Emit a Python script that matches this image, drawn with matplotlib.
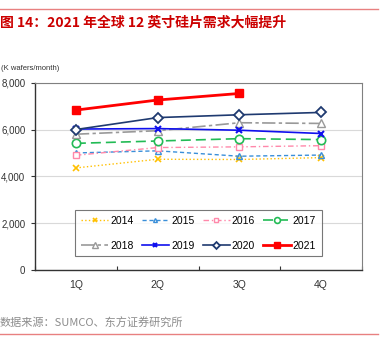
import matplotlib.pyplot as plt
from matplotlib.ticker import FuncFormatter

plt.rcParams['font.family'] = ['Liberation Sans', 'Noto Sans CJK SC', 'DejaVu Sans']
plt.rcParams['axes.unicode_minus'] = False

quarters = ['1Q', '2Q', '3Q', '4Q']
d2014 = [4360, 4730, 4720, 4800]
d2015 = [5000, 5090, 4860, 4910]
d2016 = [4900, 5230, 5260, 5310]
d2017 = [5410, 5510, 5610, 5570]
d2018 = [5800, 5950, 6290, 6260]
d2019 = [6020, 6040, 5970, 5830]
d2020 = [6000, 6510, 6630, 6730]
d2021 = [6830, 7260, 7540]

fig = plt.figure(figsize=(3.83, 3.45), dpi=100)
ax = fig.add_axes([35 / 383, 1 - 270 / 345, 327 / 383, 187.3 / 345])

x = [1, 2, 3, 4]
ms = 5
h = []
h += ax.plot(x, d2014, color='#FFC000', ls=':', lw=1, marker='x', ms=4, mew=1.2, label='2014')
h += ax.plot(x, d2015, color='#3A8FD9', ls=(0, (3, 2)), lw=1, marker='^', ms=4, mfc='none', mew=1, label='2015')
h += ax.plot(x, d2016, color='#FF88AA', ls=(0, (4, 2, 1, 2)), lw=1, marker='s', ms=ms, mfc='white', mew=1, label='2016')
h += ax.plot(x, d2017, color='#22BB55', ls=(0, (6, 3)), lw=1.2, marker='o', ms=ms + 1, mfc='white', mew=1.2, label='2017')
h += ax.plot(x, d2018, color='#999999', ls=(0, (8, 2, 2, 2)), lw=1.2, marker='^', ms=ms + 1, mfc='white', mew=1, label='2018')
h += ax.plot(x, d2019, color='#1010EE', ls='-', lw=1.2, marker='x', ms=ms, mew=1.5, label='2019')
h += ax.plot(x, d2020, color='#1F3A70', ls='-', lw=1.2, marker='D', ms=ms, mfc='white', mew=1.3, label='2020')
h += ax.plot(x[:3], d2021, color='#FF0000', ls='-', lw=2, marker='s', ms=ms + 1, label='2021')

ax.set_xlim(0.5, 4.5)
ax.set_ylim(0, 8000)
ax.set_yticks([0, 2000, 4000, 6000, 8000])
ax.yaxis.set_major_formatter(FuncFormatter(lambda v, p: f'{int(v):,}'))
ax.set_xticks([0.5, 1.5, 2.5, 3.5, 4.5])
ax.set_xticklabels([])
ax.set_xticks(x, minor=True)
ax.set_xticklabels(quarters, minor=True)
ax.tick_params(axis='x', which='minor', length=0, pad=7, labelsize=7.5, colors='#333333')
ax.tick_params(axis='x', which='major', length=3, direction='in', color='#333333')
ax.tick_params(axis='y', length=3, direction='out', labelsize=7, colors='#333333', pad=4)
ax.grid(axis='y', color='#D9D9D9', lw=0.8)
ax.set_axisbelow(True)
for s in ['top', 'right']:
    ax.spines[s].set_color('#808080')
    ax.spines[s].set_linewidth(0.8)
for s in ['left', 'bottom']:
    ax.spines[s].set_color('#333333')
    ax.spines[s].set_linewidth(1)

# legend filled row by row: 2014-2017 on top, 2018-2021 below
order = [0, 4, 1, 5, 2, 6, 3, 7]
leg = ax.legend([h[i] for i in order], [h[i].get_label() for i in order],
                ncol=4, loc='lower center', bbox_to_anchor=(0.5, 0.045), fontsize=7.5,
                frameon=True, fancybox=False, edgecolor='#555555', handlelength=2.6,
                handletextpad=0.2, columnspacing=0.8, borderpad=0.55, labelspacing=1.4,
                markerscale=0.7)
leg.get_frame().set_linewidth(0.8)

fig.text(0.002, 1 - 68 / 345, '(K wafers/month)', fontsize=5.5, color='#333333', va='center')
fig.text(0.0, 1 - 23 / 345, '图 14：2021 年全球 12 英寸硅片需求大幅提升', fontsize=10,
         color='#CC0000', fontweight='bold', va='center',
         family=['Noto Sans CJK SC', 'DejaVu Sans'])
fig.text(0.0, 1 - 323 / 345, '数据来源：SUMCO、东方证券研究所', fontsize=8,
         color='#8C8C8C', va='center', family=['Noto Sans CJK SC', 'DejaVu Sans'])
fig.add_artist(plt.Line2D([0, 378 / 383], [1 - 8.7 / 345] * 2, color='#E88080', lw=1))
fig.add_artist(plt.Line2D([0, 378 / 383], [1 - 334 / 345] * 2, color='#E88080', lw=1))

fig.savefig('out.png', dpi=100)
